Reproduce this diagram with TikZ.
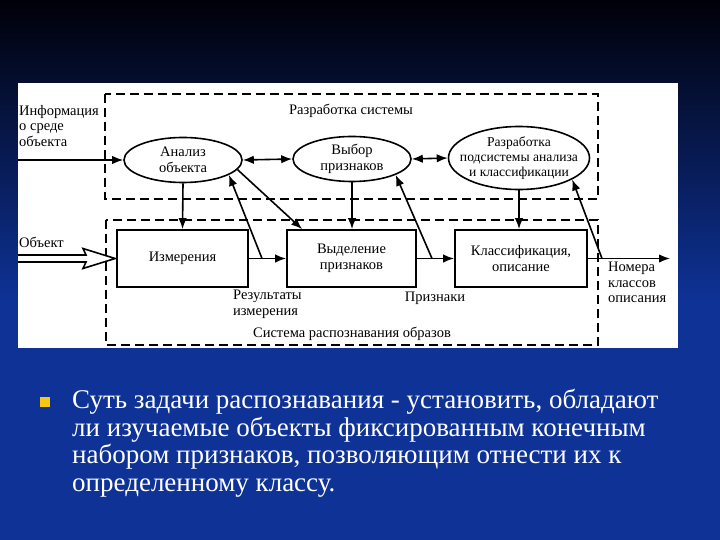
\documentclass[tikz,border=0pt]{standalone}
\usepackage{fontspec}
\setmainfont{Liberation Serif}
\usetikzlibrary{shapes.geometric}
\usetikzlibrary{arrows.meta}
\usetikzlibrary{calc}
\usepackage{xcolor}

\definecolor{slidetop}{RGB}{0,0,8}
\definecolor{slideblue}{RGB}{14,50,150}
\definecolor{bulletyellow}{RGB}{245,200,20}

\begin{document}
\begin{tikzpicture}[x=1pt,y=-1pt,
  >={Latex[length=11pt,width=8.5pt]},
  lbl/.style={font=\fontsize{14.5}{15.5}\selectfont, inner sep=0pt, align=left},
  ell/.style={ellipse, draw, line width=1.6pt, fill=white, inner sep=0pt},
  blk/.style={rectangle, draw, line width=1.8pt, fill=white, align=center,
    font=\fontsize{14.5}{16}\selectfont},
  con/.style={line width=1.6pt},
  frame/.style={line width=2pt, dash pattern=on 9pt off 5pt},
  bullet/.style={rectangle, fill=bulletyellow, minimum size=10pt, inner sep=0pt}]
\useasboundingbox (0,0) rectangle (720,540);
% slide background
\shade [top color=slidetop, bottom color=slideblue] (0,0) rectangle (720,300);
\fill [slideblue] (0,299.5) rectangle (720,540);
\fill [white] (18,83) rectangle (678,348);

% dashed frames
\draw [frame] (105,94) rectangle (598,199);
\draw [frame] (106,220) rectangle (598,345);
\node [lbl] (devL) at (351,111) {Разработка системы};
\node [lbl] (sysL) at (352,334) {Система распознавания образов};

% upper level
\node [ell, minimum width=118pt, minimum height=45pt,
  label={[lbl,align=center]center:Анализ\\объекта}] (anal) at (183,160) {};
\node [ell, minimum width=118pt, minimum height=45pt,
  label={[lbl,align=center]center:Выбор\\признаков}] (vybor) at (352,159) {};
\node [ell, minimum width=141pt, minimum height=63pt,
  label={[lbl,align=center,font=\fontsize{13.6}{15}\selectfont]center:Разработка\\подсистемы анализа\\и классификации}] (razr) at (519,158) {};

% lower level
\node [blk, minimum width=131pt, minimum height=57pt] (izm) at (182.5,258.5) {Измерения};
\node [blk, minimum width=129pt, minimum height=57pt] (vyd) at (351.5,258.5) {Выделение\\признаков};
\node [blk, minimum width=132pt, minimum height=57pt] (klass) at (521,258.5) {Классификация,\\описание};

% inputs and output
\coordinate (infoin) at (18,160);
\coordinate (objin) at (18,258.5);
\coordinate (outc) at (670,258.5);
\node [lbl, anchor=north west] (infoL) at (19,105) {Информация\\о среде\\объекта};
\node [lbl, anchor=west] (objL) at (19,242) {Объект};

\draw [con,->] (infoin) -- (anal.west);
\draw [con,fill=white] (objin) ++(0,-3.5) -- ++(68,0) -- ++(-3,-6.5) -- ([xshift=-1pt]izm.west)
  -- ($(objin)+(65,10)$) -- ++(3,-6.5) -- ++(-68,0);
\draw [con,->] (klass.east) -- (outc);

% connectors
\draw [con,<->] (anal.east) -- (vybor.west);
\draw [con,<->] (vybor.east) -- (razr.west);
\draw [con,->] (anal.south) -- (izm.north);
\draw [con,->] (vybor.south) -- (vybor.south |- vyd.north);
\draw [con,->] (razr.south) -- (razr.south |- klass.north);
\draw [con,->] (izm.east) -- (vyd.west);
\draw [con,->] (vyd.east) -- (klass.west);

% feedback
\coordinate (fb1) at (262,258.5);
\coordinate (fb2) at (432,258.5);
\coordinate (fb3) at (602,258.5);
\draw [con,->] (fb1) -- (anal.-18);
\draw [con,->] (fb2) -- (vybor.-20);
\draw [con,->] (fb3) -- (razr.-22);
\draw [con,->] (anal.-10) -- ([xshift=16pt]vyd.north west);

\node [lbl, anchor=north west] (resL) at (233,290) {Результаты\\измерения};
\node [lbl] (prizL) at (435,298) {Признаки};
\node [lbl, anchor=north west] (nomL) at (608,262) {Номера\\классов\\описания};

% bullet text
\node [bullet] (bul) at (45,402) {};
\node [anchor=north west, inner sep=0pt, align=left, text=white,
  font=\fontsize{27}{27.5}\selectfont] (bodyT) at (72,389)
  {Суть задачи распознавания - установить, обладают\\
   ли изучаемые объекты фиксированным конечным\\
   набором признаков, позволяющим отнести их к\\
   определенному классу.};
\end{tikzpicture}
\end{document}
